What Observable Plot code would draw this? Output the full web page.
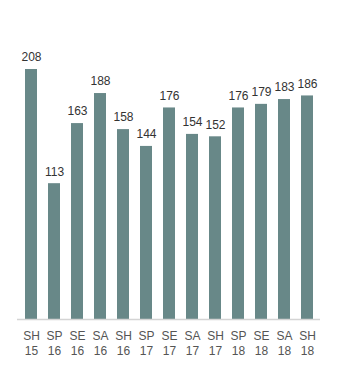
<!DOCTYPE html>
<html><head><meta charset="utf-8">
<script src="https://cdn.jsdelivr.net/npm/d3@7"></script>
<script src="https://cdn.jsdelivr.net/npm/@observablehq/plot@0.6"></script>
<style>body{margin:0;background:#fff;font-family:"Liberation Sans",Arial,sans-serif;}</style>
</head><body><div id="chart"></div>
<script>
const seasons = ["SH","SP","SE","SA","SH","SP","SE","SA","SH","SP","SE","SA","SH"];
const years = ["15","16","16","16","16","17","17","17","17","18","18","18","18"];
const values = [208,113,163,188,158,144,176,154,152,176,179,183,186];
const data = values.map((v,i)=>({key: seasons[i]+"\n"+years[i], value: v}));
const chart = Plot.plot({
  width: 351, height: 370,
  marginTop: 69, marginBottom: 51, marginLeft: 17, marginRight: 31,
  style: {fontFamily: '"Liberation Sans", Arial, sans-serif', fontSize: "12px", background: "#fff"},
  x: {domain: data.map(d=>d.key), paddingInner: 0.484, paddingOuter: 0.258, label: null, tickSize: 0, tickPadding: 9},
  y: {domain: [0, 208], axis: null},
  marks: [
    Plot.barY(data, {x: "key", y: "value", fill: "#688888"}),
    Plot.ruleY([0], {stroke: "#d4d4d4", strokeWidth: 1.5}),
    Plot.text(data, {x: "key", y: "value", text: d=>String(d.value), dy: -12, fill: "#333", fontSize: 12}),
    Plot.axisX({tickSize: 0, tickPadding: 10, fill: "#555", fontSize: 12, lineHeight: 1.25, label: null})
  ]
});
document.getElementById("chart").appendChild(chart);
</script></body></html>
